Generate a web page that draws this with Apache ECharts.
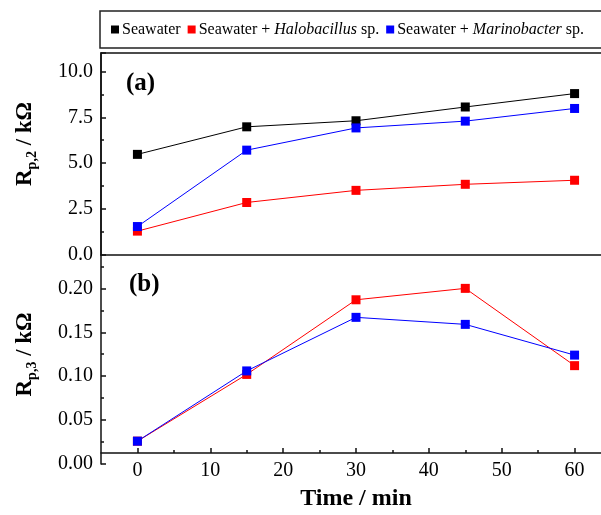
<!DOCTYPE html>
<html>
<head>
<meta charset="utf-8">
<script src="https://cdn.jsdelivr.net/npm/echarts@6/dist/echarts.min.js"></script>
<style>html,body{margin:0;padding:0;background:#fff;}#c{width:601px;height:515px;}</style>
</head>
<body>
<div id="c"></div>
<script>
const times = [0, 15, 30, 45, 60];
const rp2Seawater = [5.48, 6.98, 7.31, 8.06, 8.79];
const rp2Halo = [1.30, 2.86, 3.52, 3.85, 4.07];
const rp2Marino = [1.55, 5.71, 6.92, 7.29, 7.98];
const rp3Halo = [0.026, 0.102, 0.187, 0.200, 0.112];
const rp3Marino = [0.026, 0.106, 0.167, 0.159, 0.124];
const xMajorTicks = [0, 10, 20, 30, 40, 50, 60];
const xMinorTicks = [5, 15, 25, 35, 45, 55];
const names = ['Seawater', 'Seawater + Halobacillus sp.', 'Seawater + Marinobacter sp.'];

const FONT = '"Liberation Serif", "DejaVu Serif", serif';
const pair = (xs, ys) => xs.map((x, i) => [x, ys[i]]);

const chart = echarts.init(document.getElementById('c'), null, {renderer: 'canvas'});

function mkSeries(name, color, data, idx) {
  return {
    name: name, type: 'line', xAxisIndex: idx, yAxisIndex: idx,
    data: data, symbol: 'rect', symbolSize: 9,
    itemStyle: {color: color},
    lineStyle: {color: color, width: 1},
    animation: false, z: 3
  };
}

const yLabelCommon = {fontFamily: FONT, fontSize: 20, color: '#000', margin: 8, showMaxLabel: false};
const nameRich = {
  b: {fontFamily: FONT, fontSize: 23, fontWeight: 'bold', color: '#000'},
  s: {fontFamily: FONT, fontSize: 14, fontWeight: 'bold', color: '#000', padding: [13, 0, 0, 0]}
};

chart.setOption({
  backgroundColor: '#fff',
  animation: false,
  title: [
    {text: '(a)', left: 121, top: 66, textStyle: {fontFamily: FONT, fontSize: 25, fontWeight: 'bold', color: '#000'}},
    {text: '(b)', left: 124, top: 267, textStyle: {fontFamily: FONT, fontSize: 25, fontWeight: 'bold', color: '#000'}}
  ],
  legend: {
    left: 100, top: 11, width: 520,
    orient: 'horizontal',
    data: names,
    icon: 'rect', itemWidth: 8, itemHeight: 8, itemGap: 7,
    borderColor: '#222', borderWidth: 1.5,
    padding: [10, 60, 10, 11],
    formatter: function (n) {
      if (n === names[1]) return 'Seawater + {i|Halobacillus} sp.';
      if (n === names[2]) return 'Seawater + {i|Marinobacter} sp.';
      return n;
    },
    textStyle: {fontFamily: FONT, fontSize: 16, color: '#000', lineHeight: 17, padding: [0, 0, 0, -2],
      rich: {i: {fontFamily: FONT, fontSize: 16, fontStyle: 'italic', color: '#000'}}}
  },
  grid: [
    {left: 101, top: 53, width: 510, height: 202, outerBoundsMode: 'none', containLabel: false,
      show: true, borderColor: '#111', borderWidth: 1.5, backgroundColor: 'transparent'},
    {left: 101, top: 255, width: 510, height: 209, outerBoundsMode: 'none', containLabel: false}
  ],
  xAxis: [
    {gridIndex: 0, type: 'value', min: -5, max: 65, axisLine: {show: false}, axisTick: {show: false}, axisLabel: {show: false}, splitLine: {show: false}},
    {gridIndex: 1, type: 'value', min: -5, max: 65, position: 'bottom', offset: -11,
      axisLine: {show: true, onZero: false, lineStyle: {color: '#111', width: 1.5}},
      axisTick: {show: true, inside: true, length: 5, customValues: xMajorTicks, lineStyle: {color: '#111', width: 1.5}},
      axisLabel: {show: true, customValues: xMajorTicks, fontFamily: FONT, fontSize: 20, color: '#000', margin: 8},
      splitLine: {show: false},
      name: 'Time / min', nameLocation: 'middle', nameGap: 34,
      nameTextStyle: {fontFamily: FONT, fontSize: 24, fontWeight: 'bold', color: '#000'}},
    {gridIndex: 1, type: 'value', min: -5, max: 65, position: 'bottom', offset: -11,
      axisLine: {show: false, onZero: false},
      axisTick: {show: true, inside: true, length: 3, customValues: xMinorTicks, lineStyle: {color: '#111', width: 1.5}},
      axisLabel: {show: false}, splitLine: {show: false}}
  ],
  yAxis: [
    {gridIndex: 0, type: 'value', min: 0, max: 11, interval: 2.5,
      axisLine: {show: true, onZero: false, lineStyle: {color: '#111', width: 1.5}},
      axisTick: {show: true, inside: true, length: 5, lineStyle: {color: '#111', width: 1.5}},
      minorTick: {show: true, splitNumber: 2, length: 3, lineStyle: {color: '#111', width: 1.5}},
      axisLabel: Object.assign({}, yLabelCommon, {formatter: v => v.toFixed(1)}),
      splitLine: {show: false},
      name: '{b|R}{s|p,2}{b| / kΩ}', nameLocation: 'middle', nameGap: 62, nameRotate: 90,
      nameTextStyle: {padding: [0, 0, 0, 20], rich: nameRich}},
    {gridIndex: 1, type: 'value', min: 0, max: 0.238, interval: 0.05,
      axisLine: {show: true, onZero: false, lineStyle: {color: '#111', width: 1.5}},
      axisTick: {show: true, inside: true, length: 5, lineStyle: {color: '#111', width: 1.5}},
      minorTick: {show: true, splitNumber: 2, length: 3, lineStyle: {color: '#111', width: 1.5}},
      axisLabel: Object.assign({}, yLabelCommon, {formatter: v => v.toFixed(2)}),
      splitLine: {show: false},
      name: '{b|R}{s|p,3}{b| / kΩ}', nameLocation: 'middle', nameGap: 62, nameRotate: 90,
      nameTextStyle: {padding: [0, 0, 0, 10], rich: nameRich}}
  ],
  series: [
    mkSeries(names[0], '#000000', pair(times, rp2Seawater), 0),
    mkSeries(names[1], '#ff0000', pair(times, rp2Halo), 0),
    mkSeries(names[2], '#0000ff', pair(times, rp2Marino), 0),
    mkSeries(names[1], '#ff0000', pair(times, rp3Halo), 1),
    mkSeries(names[2], '#0000ff', pair(times, rp3Marino), 1)
  ]
});
</script>
</body>
</html>
